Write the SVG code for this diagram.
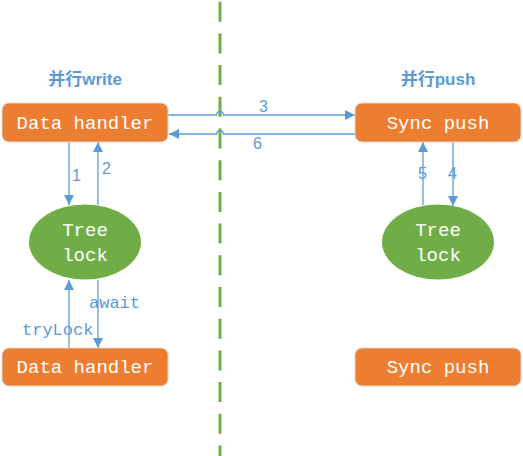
<svg xmlns="http://www.w3.org/2000/svg" width="523" height="456" viewBox="0 0 523 456">
<style>
.box{fill:#ED7D31;stroke:#E0D6CE;stroke-width:1}
.ell{fill:#70AD47}
.nt{font-family:"Liberation Mono","DejaVu Sans Mono",monospace;font-size:19px;fill:#fff;text-anchor:middle}
.ln{stroke:#5B9BD5;stroke-width:1.3;fill:none}
.lb{font-family:"Liberation Sans","DejaVu Sans",sans-serif;font-size:16px;fill:#5B9BD5}
.ml{font-family:"Liberation Mono","DejaVu Sans Mono",monospace;font-size:17px;fill:#5B9BD5}
.tt{font-family:"Liberation Sans","Noto Sans CJK SC",sans-serif;font-size:17px;font-weight:bold;fill:#5B9BD5;text-anchor:middle}
</style>
<defs>
<marker id="ah" viewBox="0 0 10 10" refX="10" refY="5" markerWidth="10" markerHeight="10" markerUnits="userSpaceOnUse" orient="auto">
<path d="M0,0 L10,5 L0,10 z" fill="#5B9BD5"/>
</marker>
</defs>
<line x1="220" y1="0" x2="220" y2="456" stroke="#70AD47" stroke-width="3" stroke-dasharray="20,11.7" stroke-dashoffset="30"/>
<text class="tt" x="85" y="85">并行write</text>
<text class="tt" x="438" y="85">并行push</text>
<g id="connectors">
<path class="ln" d="M168,115 H216.5 A3.5,3.5 0 0 1 223.5,115 H355" marker-end="url(#ah)"/>
<text class="lb" x="259" y="112">3</text>
<path class="ln" d="M355,134 H223.5 A3.5,3.5 0 0 0 216.5,134 H169" marker-end="url(#ah)"/>
<text class="lb" x="253" y="149">6</text>
<line class="ln" x1="69" y1="142" x2="69" y2="205" marker-end="url(#ah)"/>
<text class="lb" x="72" y="181">1</text>
<line class="ln" x1="98" y1="205" x2="98" y2="142" marker-end="url(#ah)"/>
<text class="lb" x="102" y="174">2</text>
<line class="ln" x1="69" y1="348" x2="69" y2="280" marker-end="url(#ah)"/>
<text class="ml" x="22" y="335">tryLock</text>
<line class="ln" x1="98" y1="280" x2="98" y2="348" marker-end="url(#ah)"/>
<text class="ml" x="89" y="308">await</text>
<line class="ln" x1="423" y1="205" x2="423" y2="142" marker-end="url(#ah)"/>
<text class="lb" x="418" y="179">5</text>
<line class="ln" x1="453" y1="142" x2="453" y2="206" marker-end="url(#ah)"/>
<text class="lb" x="448" y="179">4</text>
</g>
<g id="dh1"><rect class="box" x="2" y="103" width="166" height="39" rx="7"/><text class="nt" x="85" y="129">Data handler</text></g>
<g id="sp1"><rect class="box" x="355" y="103" width="166" height="39" rx="7"/><text class="nt" x="438" y="129">Sync push</text></g>
<g id="tl1"><ellipse class="ell" cx="85" cy="242" rx="56" ry="37.5"/><text class="nt" x="85" y="236">Tree</text><text class="nt" x="85" y="261">lock</text></g>
<g id="tl2"><ellipse class="ell" cx="438" cy="242" rx="56" ry="37.5"/><text class="nt" x="438" y="236">Tree</text><text class="nt" x="438" y="261">lock</text></g>
<g id="dh2"><rect class="box" x="2" y="348" width="166" height="38" rx="7"/><text class="nt" x="85" y="373">Data handler</text></g>
<g id="sp2"><rect class="box" x="355" y="348" width="166" height="38" rx="7"/><text class="nt" x="438" y="373">Sync push</text></g>
</svg>
